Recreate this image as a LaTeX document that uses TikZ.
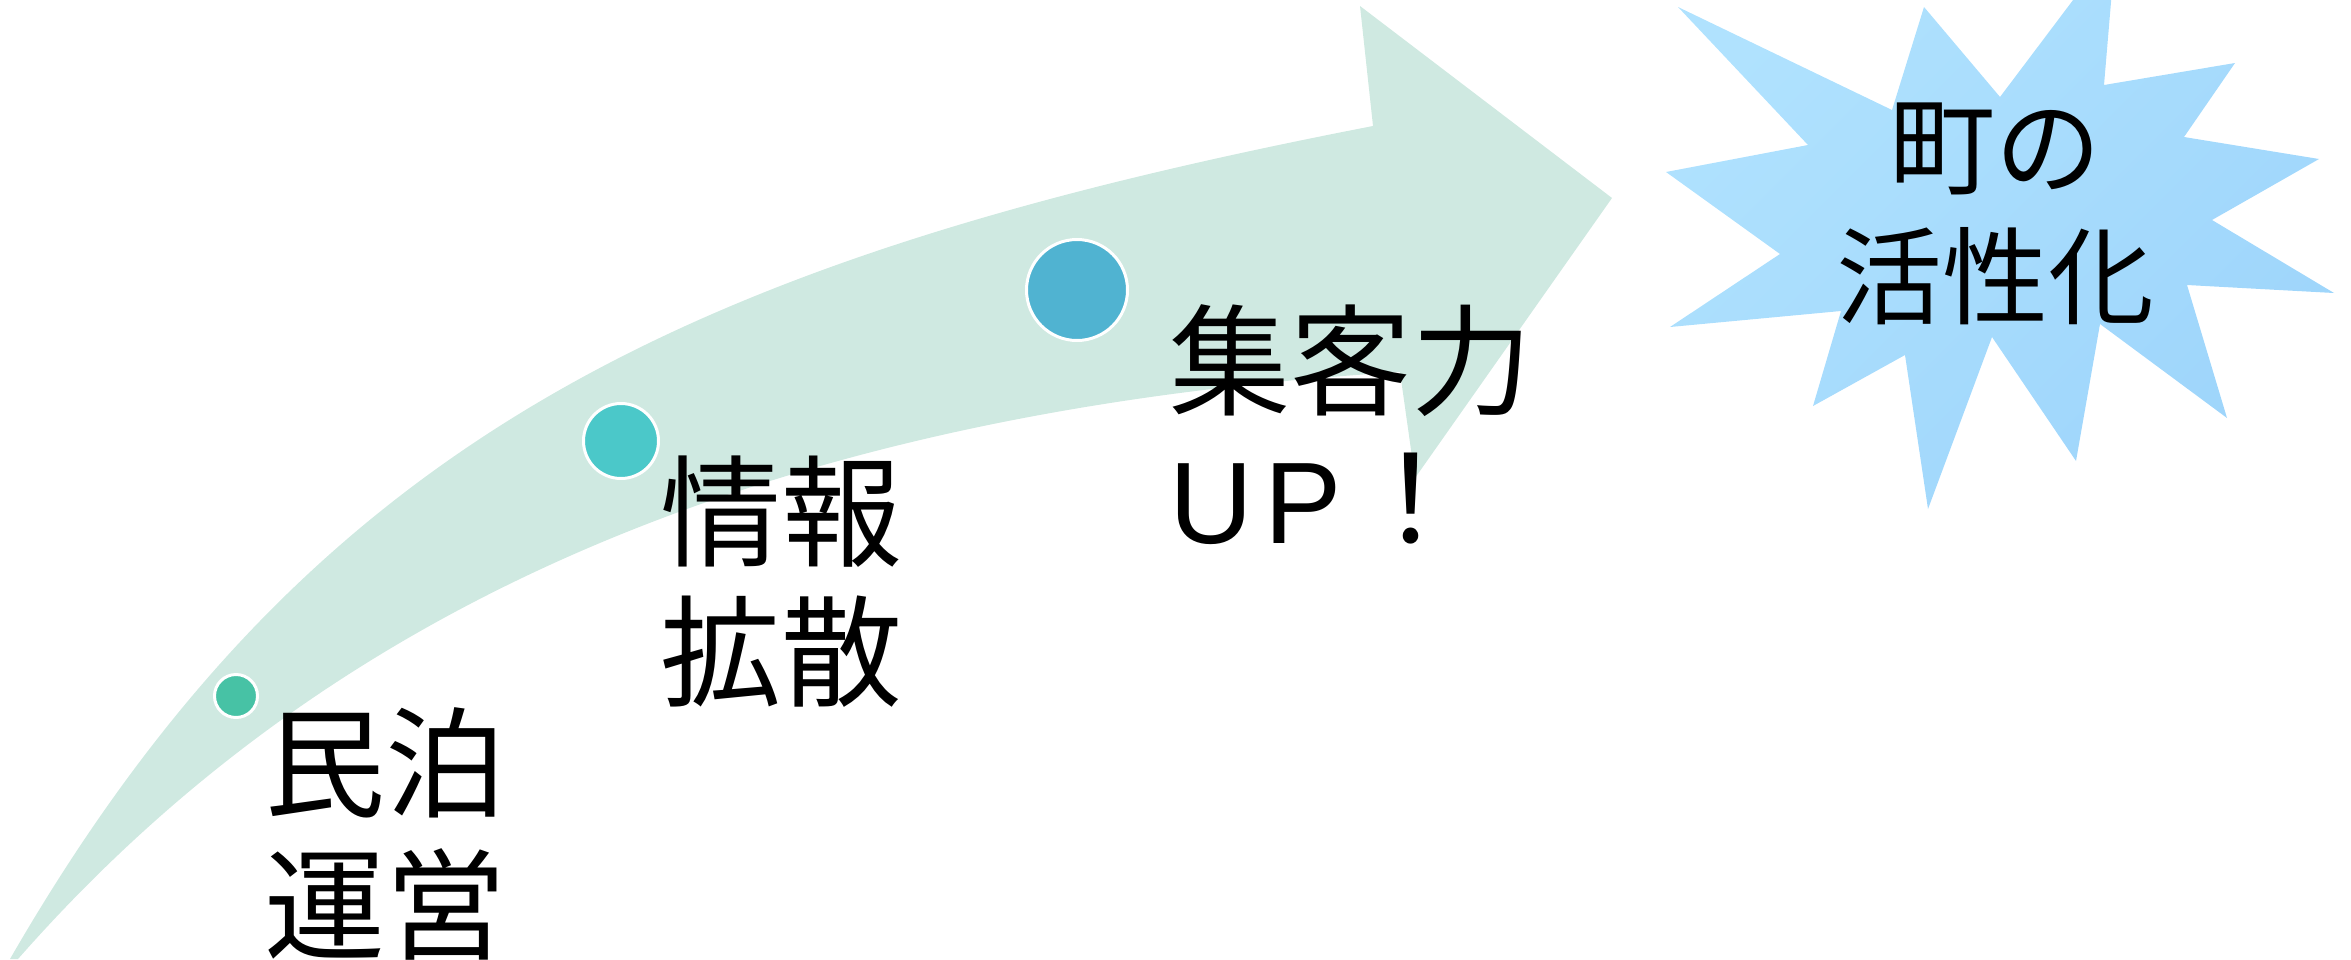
\documentclass[tikz,border=0pt]{standalone}
\usepackage{fontspec}
\newfontfamily\jp{Noto Sans CJK JP}
\newfontfamily\lat{Liberation Sans}
\definecolor{arrowfill}{RGB}{207,233,225}
\definecolor{dotA}{RGB}{71,194,165}
\definecolor{dotB}{RGB}{75,200,201}
\definecolor{dotC}{RGB}{80,179,209}
\definecolor{burstA}{RGB}{176,226,254}
\definecolor{burstB}{RGB}{158,213,251}
\begin{document}
\begin{tikzpicture}[x=0.5pt,y=-0.5pt,
  dot/.style={circle,draw=white,line width=1.5pt,inner sep=0pt},
  bigtxt/.style={inner sep=0pt,anchor=base west,font=\jp\fontsize{60.5}{60.5}\selectfont},
  bursttxt/.style={inner sep=0pt,anchor=base,font=\jp\fontsize{53}{53}\selectfont}]
\useasboundingbox (0,0) rectangle (2351,959);
\clip (0,0) rectangle (2351,959);
% curved arrow
\fill[arrowfill] (10,959) .. controls (310,439) and (687,259) .. (1373,126)
  -- (1360,6) -- (1612,198) -- (1415,478) -- (1400,372)
  .. controls (707,415) and (295,644) .. (18,959) -- cycle;
% starburst
\shade[top color=burstA,bottom color=burstB,shading angle=45]
  (1678,7) -- (1892,110) -- (1924,7) -- (2000,97) -- (2116,-57) -- (2104,85)
  -- (2235,63) -- (2184,137) -- (2319,159) -- (2212,220) -- (2334,293)
  -- (2187,285) -- (2227,418) -- (2100,324) -- (2076,461) -- (1992,337)
  -- (1928,509) -- (1905,355) -- (1813,406) -- (1841,311) -- (1670,327)
  -- (1780,254) -- (1666,172) -- (1808,145) -- cycle;
% dots
\node[dot,fill=dotA,minimum size=21.5pt] (d1) at (236,696) {};
\node[dot,fill=dotB,minimum size=37.5pt] (d2) at (621,441) {};
\node[dot,fill=dotC,minimum size=50.5pt] (d3) at (1077,290) {};
% labels
\node[bigtxt] (t1a) at (264,808) {民泊};
\node[bigtxt] (t1b) at (264,950) {運営};
\node[bigtxt] (t2a) at (660,557) {情報};
\node[bigtxt] (t2b) at (660,697) {拡散};
\node[bigtxt] (t3a) at (1169,406) {集客力};
\node[bigtxt] (t3b) at (1169,543) {{\lat\fontsize{58}{58}\selectfont U\hspace{5.5pt}P}\hspace{4.5pt}！};
\node[bursttxt] (t4a) at (1995,186) {町の};
\node[bursttxt] (t4b) at (1995,316) {活性化};
\end{tikzpicture}
\end{document}
